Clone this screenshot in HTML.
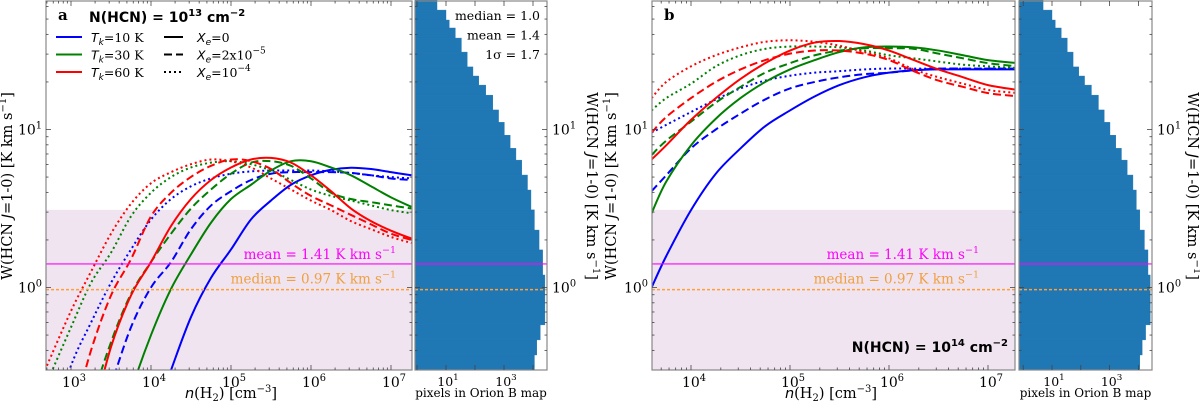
<!DOCTYPE html>
<html><head><meta charset="utf-8">
<style>
html,body{margin:0;padding:0;background:#fff;overflow:hidden;width:1200px;height:408px;}
svg{display:block;font-family:"DejaVu Serif","Liberation Serif",serif;}
</style></head>
<body>
<svg id="chart" width="1200" height="408" viewBox="0 0 1200 408" xmlns="http://www.w3.org/2000/svg">
<defs>
<clipPath id="clipA"><rect x="46" y="1" width="366" height="369"/></clipPath>
<clipPath id="clipB"><rect x="652" y="1" width="363" height="369"/></clipPath>
</defs>
<g id="root"></g>
</svg>
<script>
// ---------- data ----------
const densA = [500,1000,1780,3160,5620,1e4,1.78e4,3.16e4,5.62e4,1e5,1.78e5,3.16e5,5.62e5,1e6,1.78e6,3.16e6,5.62e6,1e7,1.8e7];
const blueSolidA = [0.01,0.02,0.03,0.05,0.08,0.13,0.3,0.65,1.15,1.74,2.7,3.55,4.47,5.13,5.56,5.73,5.62,5.37,5.13];
const blueDashA  = [0.02,0.05,0.1,0.24,0.56,1.0,1.45,2.34,3.3,4.07,4.79,5.25,5.37,5.37,5.37,5.31,5.13,4.9,4.79];
const blueDotA   = [0.11,0.32,0.6,1.07,1.74,2.69,3.63,4.37,4.9,5.25,5.43,5.5,5.5,5.5,5.43,5.31,5.13,5.0,4.9];
const greenSolidA= [0.01,0.02,0.04,0.08,0.22,0.5,0.98,1.62,2.57,3.63,4.47,5.5,6.3,6.3,5.75,5.13,4.37,3.72,3.24];
const greenDashA = [0.02,0.05,0.18,0.45,0.91,1.45,2.19,3.16,4.17,5.25,6.17,6.3,5.89,4.9,3.98,3.63,3.47,3.31,3.16];
const greenDotA  = [0.25,0.56,1.07,1.66,2.82,3.98,5.0,5.75,6.17,6.3,6.03,5.5,4.79,4.17,3.8,3.55,3.31,3.09,2.95];
const redSolidA  = [0.02,0.05,0.14,0.42,0.89,1.45,2.45,3.63,4.79,5.75,6.46,6.61,6.17,5.13,4.07,3.16,2.63,2.29,2.04];
const redDashA   = [0.05,0.14,0.4,0.89,1.51,2.82,3.98,5.01,5.89,6.46,6.3,5.62,4.57,3.8,3.31,2.88,2.51,2.19,2.0];
const redDotA    = [0.32,0.71,1.26,2.19,3.39,4.57,5.37,6.03,6.46,6.3,5.75,4.9,4.17,3.55,3.09,2.63,2.34,2.09,1.91];

const densB = [4000,5620,1e4,1.78e4,3.16e4,5.62e4,1e5,1.78e5,3.16e5,5.62e5,1e6,1.78e6,3.16e6,5.62e6,1e7,2e7];
const blueSolidB = [1.0,1.58,3.09,5.25,7.59,10.5,13.2,16.2,19.1,21.4,22.9,23.7,24.0,24.0,24.0,24.0];
const blueDashB  = [4.07,5.13,7.59,10,12.6,15.5,18.2,20,21.4,22.4,22.9,23.7,24.3,24.3,24.3,24.3];
const blueDotB   = [9.55,10.7,12.9,15.5,18.2,20.4,21.9,22.9,23.4,24,24.3,24.3,24.3,24.3,24.3,24.3];
const greenSolidB= [2.95,4.68,7.94,11.7,15.8,20,24,27.5,30.9,33.1,33.5,33.1,31.6,29.5,27.5,26.3];
const greenDashB = [6.9,8.5,11.2,14.8,18.6,22.9,26.3,29.5,31.6,32.7,32.7,32.4,30.2,28.2,26.3,25.1];
const greenDotB  = [13.2,15.8,19.5,25.1,29.5,32.4,33.5,33.5,33.1,31.6,29.5,28.2,26.9,25.7,25.1,24.5];
const redSolidB  = [6.46,7.94,11.5,15.8,20.9,26.3,31.6,35.5,36.3,34.7,31.6,27.5,24,21.4,19.1,17.8];
const redDashB   = [9.55,12,15.8,20,24,27.5,30.2,31.6,31.6,30.2,27.5,23.4,20.4,18.6,17,16.2];
const redDotB    = [15.8,20,25.1,29.5,33.1,35.9,36.7,35.9,33.9,30.9,28.2,24,21.4,19.5,17.8,17];

const histEdges = [0.30,0.374,0.466,0.58,0.83,1.2,1.73,2.31,3.1,4.14,5.15,6.4,7.6,9.2,11.1,13.3,16.5,19.1,21.8,24.9,30.9,37.9,43.9,49.3,57,66];
const histCounts = [11200,13500,17800,25700,25700,21500,16200,11200,8500,6460,4080,2580,1630,1030,650,410,234,135,85,54,34,21,13,10,4.9];

const meanW = 1.41, medianW = 0.97, shadeTopW = 3.1;
const xTickExpA = [3,4,5,6,7];
const xTickExpB = [4,5,6,7];
const yTickExp = [0,1];
const histTickExp = [1,3];

// ---------- helpers ----------
const NS = "http://www.w3.org/2000/svg";
const root = document.getElementById('root');
const L = Math.log10;
function el(tag, attrs, parent){ const e=document.createElementNS(NS,tag); for(const k in attrs) e.setAttribute(k,attrs[k]); (parent||root).appendChild(e); return e; }
const yTop=1, yBot=370;
function yS(W){ return 287.5 - L(W)*158; }
function smoothPath(pts){
  let d = `M${pts[0][0].toFixed(2)},${pts[0][1].toFixed(2)}`;
  for(let i=0;i<pts.length-1;i++){
    const p0=pts[Math.max(0,i-1)], p1=pts[i], p2=pts[i+1], p3=pts[Math.min(pts.length-1,i+2)];
    const c1=[p1[0]+(p2[0]-p0[0])/6, p1[1]+(p2[1]-p0[1])/6];
    const c2=[p2[0]-(p3[0]-p1[0])/6, p2[1]-(p3[1]-p1[1])/6];
    d+=` C${c1[0].toFixed(2)},${c1[1].toFixed(2)} ${c2[0].toFixed(2)},${c2[1].toFixed(2)} ${p2[0].toFixed(2)},${p2[1].toFixed(2)}`;
  }
  return d;
}
function supText(x,y,base,sup,anchor,size,parent,name){
  const t=el('text',{x:x,y:y,'text-anchor':anchor,'font-size':size,fill:'#000'},parent);
  
  
  t.appendChild(document.createTextNode(base));
  const s=el('tspan',{dy:-6,'font-size':size*0.7},t); s.textContent=sup;
  return t;
}

const FR='#888';
function mainPanel(cfg){
  const g=el('g',{});
  
  
  const xS=n=>cfg.x0+(L(n)-cfg.e0)*cfg.dec;
  const sh=el('rect',{x:cfg.left,y:yS(shadeTopW),width:cfg.right-cfg.left,height:yBot-yS(shadeTopW),fill:'#efe4ef'},g);
  
  
  const cg=el('g',{'clip-path':`url(#${cfg.clip})`},g);
  cfg.series.forEach(s=>{
    const pts=cfg.dens.map((n,i)=>[xS(n),yS(s.v[i])]);
    const p=el('path',{d:smoothPath(pts),fill:'none',stroke:s.c,'stroke-width':2,'stroke-dasharray':s.d},cg);
    
    
  });
  const ml=el('line',{x1:cfg.left,x2:cfg.right,y1:yS(meanW),y2:yS(meanW),stroke:'#ff00ff','stroke-width':1.2},g);
  
  
  const md=el('line',{x1:cfg.left,x2:cfg.right,y1:yS(medianW),y2:yS(medianW),stroke:'#ffa03c','stroke-width':1.5,'stroke-dasharray':'3,2'},g);
  
  
  const mt=el('text',{x:cfg.lblX,y:yS(meanW)-5,'text-anchor':'end','font-size':13.5,fill:'#ff00ff'},g);
  
  
  mt.appendChild(document.createTextNode('mean = '+meanW.toFixed(2)+' K km s'));
  el('tspan',{dy:-6,'font-size':9.5},mt).textContent='\u22121';
  const mdt=el('text',{x:cfg.lblX,y:yS(medianW)-6,'text-anchor':'end','font-size':13.5,fill:'#f0a040'},g);
  
  
  mdt.appendChild(document.createTextNode('median = '+medianW.toFixed(2)+' K km s'));
  el('tspan',{dy:-6,'font-size':9.5},mdt).textContent='\u22121';
  const fr=el('rect',{x:cfg.left,y:yTop,width:cfg.right-cfg.left,height:yBot-yTop,fill:'none',stroke:FR,'stroke-width':1.2},g);
  
  
  for(let e=Math.floor(cfg.e0)-1;e<=8;e++){
    for(let m=1;m<10;m++){
      const x=xS(m*Math.pow(10,e)); if(x<cfg.left+0.5||x>cfg.right-0.5) continue;
      const len=m===1?5:2.5;
      el('line',{x1:x,x2:x,y1:yBot,y2:yBot-len,stroke:'#444','stroke-width':0.8},g);
      el('line',{x1:x,x2:x,y1:yTop,y2:yTop+len,stroke:'#444','stroke-width':0.8},g);
    }
  }
  cfg.xTicks.forEach(e=>supText(xS(Math.pow(10,e))+3,387,'10',String(e),'middle',14,g,'x-tick-label'));
  for(let e=-1;e<=1;e++){
    for(let m=1;m<10;m++){
      const y=yS(m*Math.pow(10,e)); if(y<yTop+0.5||y>yBot-0.5) continue;
      const len=m===1?5:2.5;
      el('line',{x1:cfg.left,x2:cfg.left+len,y1:y,y2:y,stroke:'#444','stroke-width':0.8},g);
      el('line',{x1:cfg.right,x2:cfg.right-len,y1:y,y2:y,stroke:'#444','stroke-width':0.8},g);
    }
  }
  yTickExp.forEach(e=>supText(cfg.left-4,yS(Math.pow(10,e))+5,'10',String(e),'end',14,g,'y-tick-label'));
  const xl=el('text',{x:cfg.xlblX,y:398,'text-anchor':'middle','font-size':14.5,fill:'#000'},g);
  
  
  el('tspan',{'font-style':'italic','font-family':'DejaVu Sans, sans-serif'},xl).textContent='n';
  xl.appendChild(document.createTextNode('(H'));
  el('tspan',{dy:3,'font-size':10},xl).textContent='2';
  el('tspan',{dy:-3},xl).textContent=') [cm';
  el('tspan',{dy:-6,'font-size':10},xl).textContent='\u22123';
  el('tspan',{dy:6},xl).textContent=']';
  yLabel(cfg.ylblX,186,-90,g,'y-axis-title');
  const pl=el('text',{x:cfg.left+12,y:20,'font-size':15,'font-weight':'bold',fill:'#000'},g);
  
  
  pl.textContent=cfg.letter;
  return g;
}
function yLabel(x,y,rot,g,name){
  const t=el('text',{x:0,y:0,'text-anchor':'middle','font-size':14.5,fill:'#000',transform:`translate(${x},${y}) rotate(${rot})`},g);
  
  
  t.appendChild(document.createTextNode('W(HCN '));
  el('tspan',{'font-style':'italic','font-family':'DejaVu Sans, sans-serif'},t).textContent='J';
  t.appendChild(document.createTextNode('=1-0) [K km s'));
  el('tspan',{dy:-6,'font-size':10},t).textContent='\u22121';
  el('tspan',{dy:6},t).textContent=']';
}
function histPanel(cfg){
  const g=el('g',{});
  
  
  const hx=c=>cfg.x0+(L(c)-1)*cfg.dec;
  histCounts.forEach((c,i)=>{
    const y1=yS(histEdges[i]), y2=yS(histEdges[i+1]);
    const r=el('rect',{x:cfg.left,y:y2,width:Math.max(0,Math.min(hx(c),cfg.right)-cfg.left),height:y1-y2,fill:'#1f77b4',stroke:'#1f77b4','stroke-width':0.4},g);
    
    
  });
  const ml=el('line',{x1:cfg.left,x2:cfg.right,y1:yS(meanW),y2:yS(meanW),stroke:'#ff00ff','stroke-width':1.2},g);
  
  
  const md=el('line',{x1:cfg.left,x2:cfg.right,y1:yS(medianW),y2:yS(medianW),stroke:'#ffa03c','stroke-width':1.5,'stroke-dasharray':'3,2'},g);
  
  
  const fr=el('rect',{x:cfg.left,y:yTop,width:cfg.right-cfg.left,height:yBot-yTop,fill:'none',stroke:FR,'stroke-width':1.2},g);
  
  
  for(let e=0;e<=4;e++){
    const x=hx(Math.pow(10,e)); if(x<cfg.left||x>cfg.right) continue;
    el('line',{x1:x,x2:x,y1:yBot,y2:yBot-5,stroke:'#444','stroke-width':0.8},g);
    el('line',{x1:x,x2:x,y1:yTop,y2:yTop+5,stroke:'#444','stroke-width':0.8},g);
  }
  histTickExp.forEach(e=>supText(hx(Math.pow(10,e))+2,386,'10',String(e),'middle',12.5,g,'hist-x-tick-label'));
  for(let e=-1;e<=1;e++){
    for(let m=1;m<10;m++){
      const y=yS(m*Math.pow(10,e)); if(y<yTop+0.5||y>yBot-0.5) continue;
      const len=m===1?5:2.5;
      el('line',{x1:cfg.left,x2:cfg.left+len,y1:y,y2:y,stroke:'#444','stroke-width':0.8},g);
      el('line',{x1:cfg.right,x2:cfg.right-len,y1:y,y2:y,stroke:'#444','stroke-width':0.8},g);
    }
  }
  yTickExp.forEach(e=>supText(cfg.right+5,yS(Math.pow(10,e))+5,'10',String(e),'start',14,g,'hist-y-tick-label'));
  const xl=el('text',{x:(cfg.left+cfg.right)/2,y:397,'text-anchor':'middle','font-size':12,fill:'#000'},g);
  
  
  xl.textContent='pixels in Orion B map';
  yLabel(cfg.ylblX,186,90,g,'hist-y-axis-title');
  if(cfg.stats){
    const st=[['median = ','1.0'],['mean = ','1.4'],['1\u03c3 = ','1.7']];
    st.forEach((s,i)=>{
      const t=el('text',{x:cfg.right-7,y:20+i*19.5,'text-anchor':'end','font-size':12.5,fill:'#000'},g);
      
      
      t.textContent=s[0]+s[1];
    });
  }
  return g;
}

const sty={solid:'',dash:'8,4',dot:'2,3'};
mainPanel({name:'panel-a',letter:'a',left:46,right:412,x0:71,e0:3,dec:80,clip:'clipA',dens:densA,xTicks:xTickExpA,lblX:396,xlblX:231,ylblX:12,
  series:[
    {name:'curve-tk10-xe0',v:blueSolidA,c:'#0000ff',d:sty.solid},
    {name:'curve-tk10-xe2e-5',v:blueDashA,c:'#0000ff',d:sty.dash},
    {name:'curve-tk10-xe1e-4',v:blueDotA,c:'#0000ff',d:sty.dot},
    {name:'curve-tk30-xe0',v:greenSolidA,c:'#008000',d:sty.solid},
    {name:'curve-tk30-xe2e-5',v:greenDashA,c:'#008000',d:sty.dash},
    {name:'curve-tk30-xe1e-4',v:greenDotA,c:'#008000',d:sty.dot},
    {name:'curve-tk60-xe0',v:redSolidA,c:'#ff0000',d:sty.solid},
    {name:'curve-tk60-xe2e-5',v:redDashA,c:'#ff0000',d:sty.dash},
    {name:'curve-tk60-xe1e-4',v:redDotA,c:'#ff0000',d:sty.dot}]});
histPanel({name:'histogram-a',left:415,right:547,x0:446,dec:29,ylblX:587,stats:true});
mainPanel({name:'panel-b',letter:'b',left:652,right:1015,x0:691,e0:4,dec:99,clip:'clipB',dens:densB,xTicks:xTickExpB,lblX:979,xlblX:831,ylblX:616,
  series:[
    {name:'curve-tk10-xe0',v:blueSolidB,c:'#0000ff',d:sty.solid},
    {name:'curve-tk10-xe2e-5',v:blueDashB,c:'#0000ff',d:sty.dash},
    {name:'curve-tk10-xe1e-4',v:blueDotB,c:'#0000ff',d:sty.dot},
    {name:'curve-tk30-xe0',v:greenSolidB,c:'#008000',d:sty.solid},
    {name:'curve-tk30-xe2e-5',v:greenDashB,c:'#008000',d:sty.dash},
    {name:'curve-tk30-xe1e-4',v:greenDotB,c:'#008000',d:sty.dot},
    {name:'curve-tk60-xe0',v:redSolidB,c:'#ff0000',d:sty.solid},
    {name:'curve-tk60-xe2e-5',v:redDashB,c:'#ff0000',d:sty.dash},
    {name:'curve-tk60-xe1e-4',v:redDotB,c:'#ff0000',d:sty.dot}]});
histPanel({name:'histogram-b',left:1019,right:1152,x0:1052,dec:28.8,ylblX:1188,stats:false});

// ---------- legend & titles ----------
const lg=el('g',{});


const t1=el('text',{x:89,y:22,'font-size':14,'font-weight':'bold','font-family':'DejaVu Sans, sans-serif',fill:'#000'},lg);


t1.appendChild(document.createTextNode('N(HCN) = 10'));
el('tspan',{dy:-6,'font-size':10},t1).textContent='13';
el('tspan',{dy:6},t1).textContent=' cm';
el('tspan',{dy:-6,'font-size':10},t1).textContent='\u22122';
const t2=el('text',{x:1008,y:352,'text-anchor':'end','font-size':14,'font-weight':'bold','font-family':'DejaVu Sans, sans-serif',fill:'#000'});


t2.appendChild(document.createTextNode('N(HCN) = 10'));
el('tspan',{dy:-6,'font-size':10},t2).textContent='14';
el('tspan',{dy:6},t2).textContent=' cm';
el('tspan',{dy:-6,'font-size':10},t2).textContent='\u22122';

const legT=[['#0000ff','10'],['#008000','30'],['#ff0000','60']];
legT.forEach((l,i)=>{
  const y=37+i*17.5;
  const ln=el('line',{x1:56,x2:82,y1:y,y2:y,stroke:l[0],'stroke-width':2},lg);
  
  
  const t=el('text',{x:91,y:y+5,'font-size':12.5,fill:'#000'},lg);
  
  
  el('tspan',{'font-style':'italic','font-family':'DejaVu Sans, sans-serif'},t).textContent='T';
  el('tspan',{dy:3,'font-size':9,'font-style':'italic','font-family':'DejaVu Sans, sans-serif'},t).textContent='k';
  el('tspan',{dy:-3},t).textContent='='+l[1]+' K';
});
const legX=[[sty.solid,'0',''],[sty.dash,'2x10','\u22125'],[sty.dot,'10','\u22124']];
legX.forEach((l,i)=>{
  const y=37+i*17.5;
  const ln=el('line',{x1:164,x2:183,y1:y,y2:y,stroke:'#000','stroke-width':2,'stroke-dasharray':l[0]},lg);
  
  
  const t=el('text',{x:197,y:y+5,'font-size':12.5,fill:'#000'},lg);
  
  
  el('tspan',{'font-style':'italic','font-family':'DejaVu Sans, sans-serif'},t).textContent='X';
  el('tspan',{dy:3,'font-size':9,'font-style':'italic','font-family':'DejaVu Sans, sans-serif'},t).textContent='e';
  el('tspan',{dy:-3},t).textContent='='+l[1];
  if(l[2]) el('tspan',{dy:-6,'font-size':9},t).textContent=l[2];
});
</script>
</body></html>
